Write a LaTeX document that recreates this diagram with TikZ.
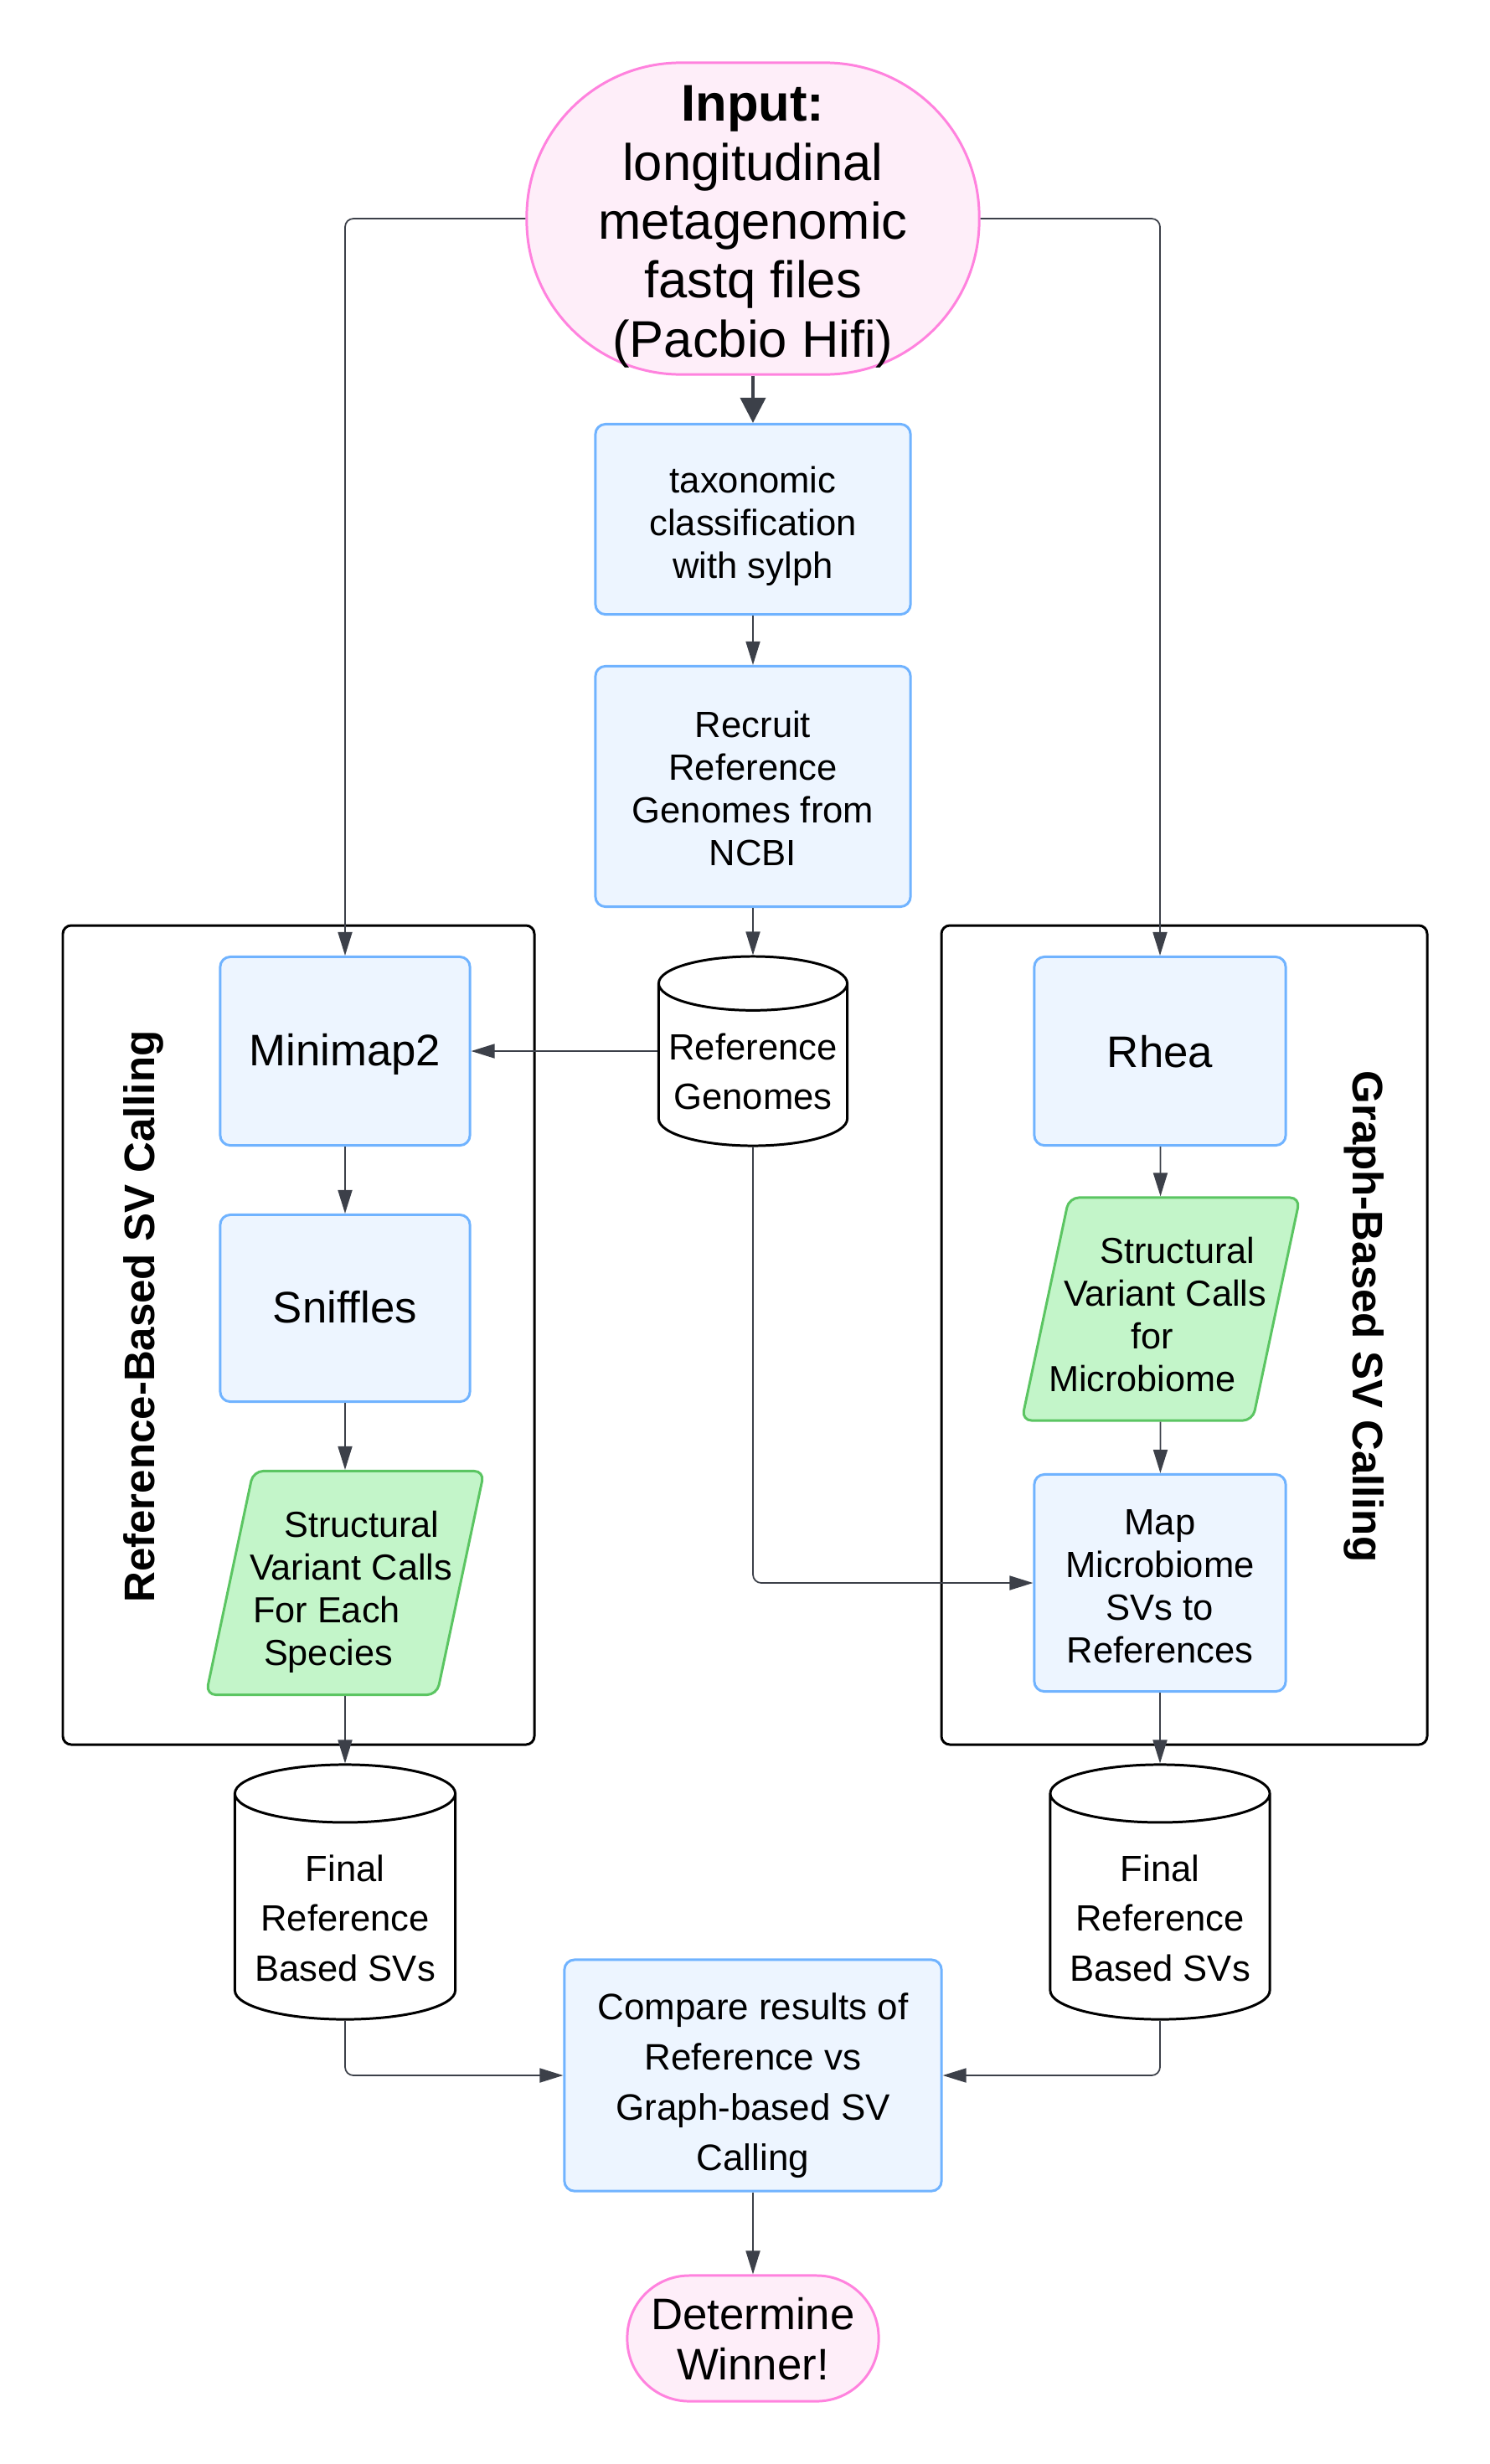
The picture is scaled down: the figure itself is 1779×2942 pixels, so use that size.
\documentclass[tikz,border=0pt]{standalone}
\usepackage{fontspec}
\setmainfont{Liberation Sans}
\usetikzlibrary{arrows.meta,shapes.geometric}

\definecolor{boxfill}{HTML}{EDF5FF}
\definecolor{boxline}{HTML}{70B3FF}
\definecolor{callfill}{HTML}{C3F5C9}
\definecolor{callline}{HTML}{5BC562}
\definecolor{endfill}{HTML}{FEEEF9}
\definecolor{endline}{HTML}{FF82DE}
\definecolor{flowgray}{HTML}{3C4049}

% one line of a slanted box, moved sideways by half of #1
\newcommand{\slantline}[2]{\makebox[0pt]{\hspace*{#1}#2}}
% text height above the last baseline, and depth below it
\newcommand{\evtop}{0pt}
\newcommand{\evbot}{0pt}

\tikzset{
  textup/.code={\def\evtop{#1}},
  textdown/.code={\def\evbot{#1}},
  evensetup/.style={execute at begin node={\rule{0pt}{\evtop}}, execute at end node={\rule[-\evbot]{0pt}{0pt}}},
  stepbox/.style={draw=boxline, fill=boxfill, line width=0.85pt, rounded corners=0.12cm, align=center, inner sep=0pt, evensetup},
  smalltext/.style={font=\fontsize{12.4}{14.5}\selectfont, textdown=3.1pt},
  bigtext/.style={font=\fontsize{15}{17}\selectfont, textdown=3.75pt},
  terminal/.style={draw=endline, fill=endfill, line width=0.85pt, align=center, inner sep=0pt, evensetup},
  callset/.style={trapezium, trapezium left angle=75.5, trapezium right angle=104.5, trapezium stretches body=true,
    draw=callline, fill=callfill, line width=0.85pt, rounded corners=0.12cm, align=center, inner sep=0pt,
    font=\fontsize{12.3}{14.5}\selectfont, evensetup, textup=59pt, textdown=3.1pt},
  store/.style={cylinder, shape border rotate=90, aspect=0.32, draw=black, fill=white, line width=0.85pt,
    align=center, inner sep=0pt, anchor=shape center, font=\fontsize{12.4}{17}\selectfont, evensetup, textdown=3.1pt},
  cluster/.style={draw=black, line width=0.85pt, rounded corners=0.1cm},
  cltitle/.style={font=\bfseries\fontsize{14.5}{17}\selectfont},
  flow/.style={draw=flowgray, line width=0.5pt, rounded corners=0.1cm, -{Triangle[length=2.8mm, width=1.7mm]}},
}

\begin{document}
\begin{tikzpicture}[x=0.01cm, y=-0.01cm]
  \useasboundingbox (0,0) rectangle (1779,2942);

  % the two frames
  \draw [cluster] (75,1105) rectangle (638,2083);
  \draw [cluster] (1124,1105) rectangle (1704,2083);
  \node (reftitle) [cltitle, rotate=90] at (171,1572) {Reference-Based SV Calling};
  \node (graphtitle) [cltitle, rotate=-90] at (1629,1572) {Graph-Based SV Calling};

  % middle column
  \node (input) [terminal, rounded corners=1.84cm, minimum width=5.4cm, minimum height=3.72cm,
    font=\fontsize{17.5}{20}\selectfont, textup=98.4pt, textdown=4.4pt] at (899,261)
    {\textbf{Input:}\\longitudinal\\metagenomic\\fastq files\\(Pacbio Hifi)};
  \node (sylph) [stepbox, smalltext, textup=43.2pt, minimum width=3.76cm, minimum height=2.27cm] at (899,620)
    {taxonomic\\classification\\with sylph};
  \node (recruit) [stepbox, smalltext, textup=56.7pt, minimum width=3.76cm, minimum height=2.87cm] at (899,939)
    {Recruit\\Reference\\Genomes from\\NCBI};
  \node (refdb) [store, textup=33.3pt, minimum width=2.25cm, minimum height=2.25cm] at (899,1255)
    {Reference\\Genomes};

  % reference based
  \node (mini) [stepbox, bigtext, textup=13.7pt, minimum width=2.98cm, minimum height=2.25cm] at (412,1255) {Minimap2};
  \node (sniff) [stepbox, bigtext, textup=13.7pt, minimum width=2.98cm, minimum height=2.23cm] at (412,1562) {Sniffles};
  \node (callref) [callset, minimum width=3.32cm, minimum height=2.67cm] at (412,1890)
    {\slantline{0.4cm}{Structural}\\\slantline{0.14cm}{Variant Calls}\\\slantline{-0.44cm}{For Each}\\\slantline{-0.4cm}{Species}};
  \node (finref) [store, textup=53.5pt, minimum width=2.63cm, minimum height=3.04cm] at (412,2259)
    {Final\\Reference\\Based SVs};

  % graph based
  \node (rhea) [stepbox, bigtext, textup=14.7pt, minimum width=3.0cm, minimum height=2.25cm] at (1385,1255) {Rhea};
  \node (callgraph) [callset, minimum width=3.32cm, minimum height=2.66cm] at (1386,1563)
    {\slantline{0.4cm}{Structural}\\\slantline{0.1cm}{Variant Calls}\\\slantline{-0.2cm}{for}\\\slantline{-0.44cm}{Microbiome}};
  \node (mapsv) [stepbox, smalltext, textup=57.2pt, minimum width=3.0cm, minimum height=2.59cm] at (1385,1890)
    {Map\\Microbiome\\SVs to\\References};
  \node (fingraph) [store, textup=53.5pt, minimum width=2.62cm, minimum height=3.04cm] at (1385,2259)
    {Final\\Reference\\Based SVs};

  % end
  \node (cmp) [stepbox, font=\fontsize{12.5}{17}\selectfont, textup=67.4pt, textdown=3.1pt,
    minimum width=4.5cm, minimum height=2.76cm] at (899,2478)
    {Compare results of\\Reference vs\\Graph-based SV\\Calling};
  \node (winner) [terminal, bigtext, textup=32pt, rounded corners=0.74cm, minimum width=3.0cm, minimum height=1.5cm] at (899,2792)
    {Determine\\Winner!};

  \draw [flow, line width=1.1pt, -{Triangle[length=3mm, width=3mm]}] (input) -- (sylph);
  \draw [flow] (sylph) -- (recruit);
  \draw [flow] (recruit) -- (refdb);
  \draw [flow] (input.west) -| (mini);
  \draw [flow] (input.east) -| (rhea);
  \draw [flow] (refdb.shape center -| refdb.west) -- (mini);
  \draw [flow] (refdb.south) |- (mapsv);

  \draw [flow] (mini) -- (sniff);
  \draw [flow] (sniff) -- (callref);
  \draw [flow] (callref) -- (finref);

  \draw [flow] (rhea) -- (callgraph);
  \draw [flow] (callgraph) -- (mapsv);
  \draw [flow] (mapsv) -- (fingraph);

  \draw [flow] (finref.south) |- (cmp);
  \draw [flow] (fingraph.south) |- (cmp);
  \draw [flow] (cmp) -- (winner);
\end{tikzpicture}
\end{document}
